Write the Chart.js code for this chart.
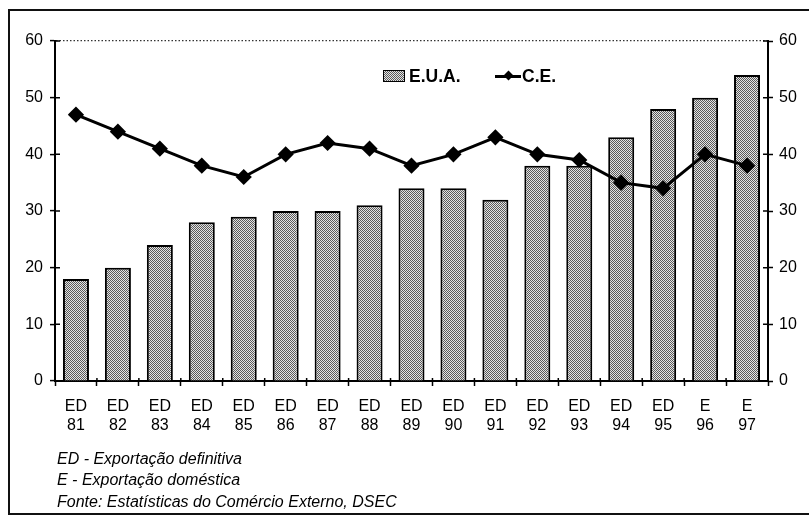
<!DOCTYPE html>
<html>
<head>
<meta charset="utf-8">
<script src="https://cdn.jsdelivr.net/npm/chart.js@4.4.0/dist/chart.umd.min.js"></script>
<style>
  html, body { margin: 0; padding: 0; background: #fff; }
  #wrap { position: relative; width: 809px; height: 517px; overflow: hidden; font-family: "Liberation Sans", Arial, sans-serif; }
  #c { position: absolute; left: 0; top: 0; }
  #frame { position: absolute; left: 8px; top: 9px; width: 820px; height: 506px; border-left: 2px solid #111; border-top: 2px solid #111; border-bottom: 2px solid #111; box-sizing: border-box; pointer-events: none; }
  .lg { position: absolute; font-weight: bold; font-size: 17.5px; color: #000; line-height: 1; }
  #box { position: absolute; left: 383px; top: 70px; width: 22px; height: 12px; border: 1px solid #000; box-sizing: border-box;
         background: repeating-conic-gradient(#5a5a5a 0 25%, #e4e4e4 0 50%) 0 0 / 2px 2px; }
  #ln { position: absolute; left: 495px; top: 75px; width: 26px; height: 2.5px; background: #000; }
  #dm { position: absolute; left: 505px; top: 72px; width: 7px; height: 7px; background: #000; transform: rotate(45deg); }
  .fn { position: absolute; left: 57px; font-style: italic; font-size: 16px; color: #000; line-height: 1; white-space: nowrap; }
</style>
</head>
<body>
<div id="wrap">
  <canvas id="c" width="809" height="517"></canvas>
  <div id="frame"></div>
  <div id="box"></div>
  <div class="lg" style="left:409px; top:68px;">E.U.A.</div>
  <div id="ln"></div><div id="dm"></div>
  <div class="lg" style="left:522px; top:68px;">C.E.</div>
  <div class="fn" style="top:451px;">ED - Exportação definitiva</div>
  <div class="fn" style="top:472px;">E - Exportação doméstica</div>
  <div class="fn" style="top:494px;">Fonte: Estatísticas do Comércio Externo, DSEC</div>
</div>
<script>
// ---- data ----
const exportType = ["ED","ED","ED","ED","ED","ED","ED","ED","ED","ED","ED","ED","ED","ED","ED","E","E"];
const years = ["81","82","83","84","85","86","87","88","89","90","91","92","93","94","95","96","97"];
const euaValues = [18, 20, 24, 28, 29, 30, 30, 31, 34, 34, 32, 38, 38, 43, 48, 50, 54];
const ceValues = [47, 44, 41, 38, 36, 40, 42, 41, 38, 40, 43, 40, 39, 35, 34, 40, 38];
const yTicks = [0, 10, 20, 30, 40, 50, 60];
const seriesNames = ["E.U.A.", "C.E."];

const labels = exportType.map((t, i) => [t, years[i]]);

// stipple pattern
const pc = document.createElement('canvas');
pc.width = 2; pc.height = 2;
const pctx = pc.getContext('2d');
pctx.fillStyle = '#e4e4e4'; pctx.fillRect(0, 0, 2, 2);
pctx.fillStyle = '#5a5a5a'; pctx.fillRect(0, 0, 1, 1); pctx.fillRect(1, 1, 1, 1);
const ctx = document.getElementById('c').getContext('2d');
const pattern = ctx.createPattern(pc, 'repeat');

const crossTicks = {
  id: 'crossTicks',
  afterDraw(chart) {
    const c = chart.ctx;
    c.save();
    c.strokeStyle = '#000';
    c.lineWidth = 1.5;
    const yl = chart.scales.y, yr = chart.scales.y2, x = chart.scales.x;
    c.beginPath();
    yTicks.forEach(v => {
      const py = yl.getPixelForValue(v);
      c.moveTo(yl.right, py); c.lineTo(yl.right + 5, py);
      const pr = yr.getPixelForValue(v);
      c.moveTo(yr.left - 5, pr); c.lineTo(yr.left, pr);
    });
    for (let i = 0; i <= labels.length; i++) {
      const px = x.getPixelForValue(i - 0.5);
      c.moveTo(px, x.top); c.lineTo(px, x.top - 3);
    }
    c.stroke();
    c.restore();
  }
};

const tickFont = { family: '"Liberation Sans", Arial, sans-serif', size: 16 };

new Chart(ctx, {
  data: {
    labels: labels,
    datasets: [
      {
        type: 'line', label: seriesNames[1], data: ceValues, yAxisID: 'y2',
        borderColor: '#000', backgroundColor: '#000', borderWidth: 3,
        pointStyle: 'rectRot', pointRadius: 6, pointHoverRadius: 6, tension: 0, order: 0
      },
      {
        type: 'bar', label: seriesNames[0], data: euaValues, yAxisID: 'y',
        backgroundColor: pattern, borderColor: '#000', borderWidth: 2,
        barPercentage: 0.62, categoryPercentage: 1, order: 1
      }
    ]
  },
  options: {
    responsive: false,
    animation: false,
    devicePixelRatio: 1,
    layout: { padding: { top: 41, left: 0, right: 0, bottom: 0 } },
    plugins: { legend: { display: false }, tooltip: { enabled: false } },
    scales: {
      x: {
        offset: true,
        grid: { offset: true, drawOnChartArea: false, drawTicks: true, tickLength: 5, color: '#000', tickWidth: 1.5 },
        border: { display: true, color: '#000', width: 2 },
        ticks: { color: '#000', font: tickFont, padding: 11, maxRotation: 0, autoSkip: false },
        afterFit(s) { s.height = 136; }
      },
      y: {
        position: 'left', min: 0, max: 60,
        afterBuildTicks(s) { s.ticks = yTicks.map(v => ({ value: v })); },
        grid: {
          color: (c) => (c.tick && c.tick.value === 60 ? '#333' : 'rgba(0,0,0,0)'),
          tickColor: '#000', tickLength: 5, tickWidth: 1.5, lineWidth: 1.2
        },
        border: { display: true, color: '#000', width: 2, dash: [1.5, 2] },
        ticks: { color: '#000', font: tickFont, padding: 7 },
        afterFit(s) { s.width = 55; }
      },
      y2: {
        position: 'right', min: 0, max: 60,
        afterBuildTicks(s) { s.ticks = yTicks.map(v => ({ value: v })); },
        grid: { drawOnChartArea: false, tickColor: '#000', tickLength: 5, tickWidth: 1.5 },
        border: { display: true, color: '#000', width: 2 },
        ticks: { color: '#000', font: tickFont, padding: 6 },
        afterFit(s) { s.width = 41; }
      }
    }
  },
  plugins: [crossTicks]
});
</script>
</body>
</html>
